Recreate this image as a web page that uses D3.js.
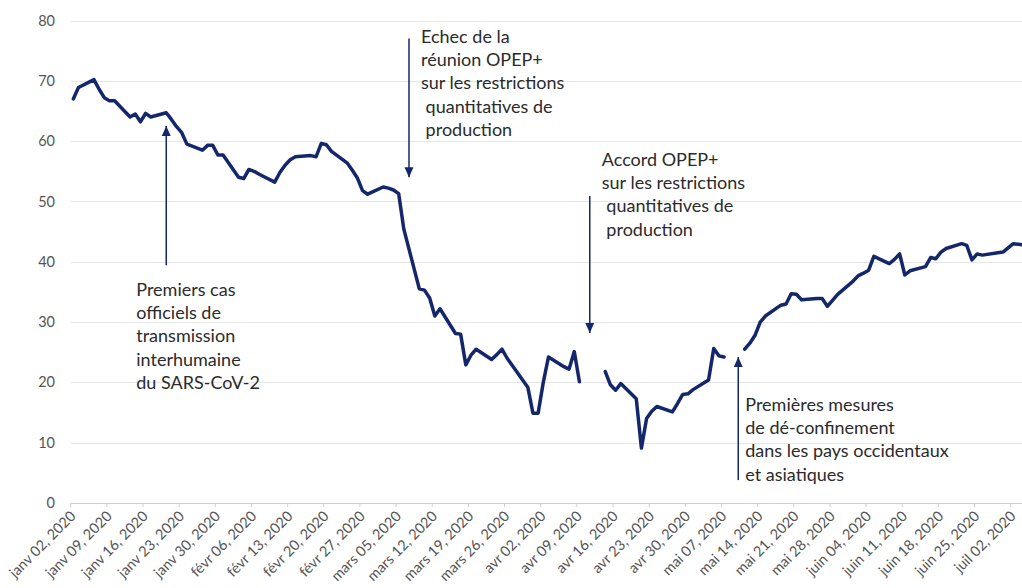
<!DOCTYPE html>
<html>
<head>
<meta charset="utf-8">
<script src="https://cdn.jsdelivr.net/npm/d3@7"></script>
<style>
  body { margin: 0; background: #fff; }
  svg { display: block; font-family: Lato, "Open Sans", sans-serif; }
  .grid line { stroke: #e6e6e6; stroke-width: 1; }
  .yaxis text { fill: #555; font-size: 14.5px; }
  .xaxis text { fill: #555; font-size: 14.5px; }
  .note text { fill: #2b2b2b; font-size: 18px; white-space: pre; }
</style>
</head>
<body>
<div id="chart"></div>
<script>
// Brent price, business days, null = no quote (holiday)
var dates = [
  "2020-01-02","2020-01-03","2020-01-06","2020-01-07","2020-01-08","2020-01-09","2020-01-10",
  "2020-01-13","2020-01-14","2020-01-15","2020-01-16","2020-01-17",
  "2020-01-20","2020-01-21","2020-01-22","2020-01-23","2020-01-24",
  "2020-01-27","2020-01-28","2020-01-29","2020-01-30","2020-01-31",
  "2020-02-03","2020-02-04","2020-02-05","2020-02-06","2020-02-07",
  "2020-02-10","2020-02-11","2020-02-12","2020-02-13","2020-02-14",
  "2020-02-17","2020-02-18","2020-02-19","2020-02-20","2020-02-21",
  "2020-02-24","2020-02-25","2020-02-26","2020-02-27","2020-02-28",
  "2020-03-02","2020-03-03","2020-03-04","2020-03-05","2020-03-06",
  "2020-03-09","2020-03-10","2020-03-11","2020-03-12","2020-03-13",
  "2020-03-16","2020-03-17","2020-03-18","2020-03-19","2020-03-20",
  "2020-03-23","2020-03-24","2020-03-25","2020-03-26","2020-03-27",
  "2020-03-30","2020-03-31","2020-04-01","2020-04-02","2020-04-03",
  "2020-04-06","2020-04-07","2020-04-08","2020-04-09","2020-04-10",
  "2020-04-13","2020-04-14","2020-04-15","2020-04-16","2020-04-17",
  "2020-04-20","2020-04-21","2020-04-22","2020-04-23","2020-04-24",
  "2020-04-27","2020-04-28","2020-04-29","2020-04-30","2020-05-01",
  "2020-05-04","2020-05-05","2020-05-06","2020-05-07","2020-05-08",
  "2020-05-11","2020-05-12","2020-05-13","2020-05-14","2020-05-15",
  "2020-05-18","2020-05-19","2020-05-20","2020-05-21","2020-05-22",
  "2020-05-25","2020-05-26","2020-05-27","2020-05-28","2020-05-29",
  "2020-06-01","2020-06-02","2020-06-03","2020-06-04","2020-06-05",
  "2020-06-08","2020-06-09","2020-06-10","2020-06-11","2020-06-12",
  "2020-06-15","2020-06-16","2020-06-17","2020-06-18","2020-06-19",
  "2020-06-22","2020-06-23","2020-06-24","2020-06-25","2020-06-26",
  "2020-06-29","2020-06-30","2020-07-01","2020-07-02","2020-07-03",
  "2020-07-06"
];
var prices = [
  67.0, 68.9, 70.2, 68.6, 67.2, 66.7, 66.7,
  64.0, 64.5, 63.2, 64.6, 64.0,
  64.7, 63.6, 62.4, 61.4, 59.5,
  58.5, 59.3, 59.3, 57.7, 57.7,
  54.0, 53.8, 55.3, 55.0, 54.5,
  53.2, 54.8, 56.0, 56.9, 57.4,
  57.6, 57.4, 59.6, 59.4, 58.3,
  56.4, 55.2, 53.9, 51.8, 51.2,
  52.4, 52.2, 51.9, 51.3, 45.4,
  35.5, 35.3, 34.0, 31.0, 32.2,
  28.1, 28.0, 22.9, 24.5, 25.5,
  23.8, 24.6, 25.5, 24.0, 22.8,
  19.2, 14.9, 14.9, 20.0, 24.2,
  22.6, 22.2, 25.1, 20.1, null,
  null, 21.8, 19.6, 18.7, 19.8,
  17.3, 9.1, 14.0, 15.2, 16.0,
  15.1, 16.5, 18.0, 18.1, 18.8,
  20.4, 25.6, 24.4, 24.2, null,
  25.5, 26.5, 27.8, 30.0, 31.0,
  32.8, 33.0, 34.7, 34.6, 33.7,
  33.9, 33.9, 32.6, 33.6, 34.6,
  36.8, 37.7, 38.1, 38.6, 40.9,
  39.7, 40.4, 41.3, 37.8, 38.5,
  39.2, 40.7, 40.5, 41.6, 42.2,
  43.0, 42.7, 40.3, 41.3, 41.1,
  41.5, 41.6, 42.3, 43.0, 42.9,
  42.6
];
var yTicks = [0, 10, 20, 30, 40, 50, 60, 70, 80];
var moisCourts = ["janv", "févr", "mars", "avr", "mai", "juin", "juil", "août", "sept", "oct", "nov", "déc"];

var notes = [
  {date: "2020-01-20T12:00", from: 39.4, to: 62.5, tx: -30, ty: 296,
   lines: ["Premiers cas", "officiels de", "transmission", "interhumaine", "du SARS-CoV-2"]},
  {date: "2020-03-07T12:00", from: 77.0, to: 54.0, tx: 12, ty: 43,
   lines: ["Echec de la", "réunion OPEP+", "sur les restrictions", " quantitatives de", " production"]},
  {date: "2020-04-11T12:00", from: 50.9, to: 28.2, tx: 12, ty: 166,
   lines: ["Accord OPEP+", "sur les restrictions", " quantitatives de", " production"]},
  {date: "2020-05-10T06:00", from: 3.8, to: 24.2, tx: 7, ty: 411,
   lines: ["Premières mesures", "de dé-confinement", "dans les pays occidentaux", "et asiatiques"]}
];

var width = 1022, height = 588;
var plotLeft = 70.7, plotRight = 1010.7, plotTop = 20.5, plotBottom = 503;
var navy = "#15276b";

var parse = d3.timeParse("%Y-%m-%d");
var parseT = d3.timeParse("%Y-%m-%dT%H:%M");
// quotes are plotted at midday
var data = dates.map(function (d, i) {
  return {date: d3.timeHour.offset(parse(d), 12), value: prices[i]};
});

var x = d3.scaleTime()
  .domain([parse("2020-01-02"), parse("2020-07-02")])
  .range([plotLeft, plotRight]);
var y = d3.scaleLinear()
  .domain([0, 80])
  .range([plotBottom, plotTop]);

var fr = d3.timeFormatLocale({
  dateTime: "%A %e %B %Y à %X", date: "%d/%m/%Y", time: "%H:%M:%S",
  periods: ["AM", "PM"],
  days: ["dimanche", "lundi", "mardi", "mercredi", "jeudi", "vendredi", "samedi"],
  shortDays: ["dim.", "lun.", "mar.", "mer.", "jeu.", "ven.", "sam."],
  months: ["janvier", "février", "mars", "avril", "mai", "juin", "juillet", "août", "septembre", "octobre", "novembre", "décembre"],
  shortMonths: moisCourts
});
var fmt = fr.format("%b %d, %Y");

var svg = d3.select("#chart").append("svg")
  .attr("width", width)
  .attr("height", height);

// horizontal grid
svg.append("g")
  .attr("class", "grid")
  .selectAll("line")
  .data(yTicks.filter(function (t) { return t > 0; }))
  .enter().append("line")
  .attr("x1", plotLeft).attr("x2", width)
  .attr("y1", function (d) { return Math.round(y(d)) + 0.5; })
  .attr("y2", function (d) { return Math.round(y(d)) + 0.5; });

// y labels
svg.append("g")
  .attr("class", "yaxis")
  .selectAll("text")
  .data(yTicks)
  .enter().append("text")
  .attr("x", 55)
  .attr("y", function (d) { return y(d); })
  .attr("dy", "0.35em")
  .attr("text-anchor", "end")
  .text(function (d) { return d; });

// x axis, one tick a week (Thursdays)
var weeks = d3.timeThursday.range(parse("2020-01-02"), d3.timeDay.offset(parse("2020-07-02"), 1));
var xa = svg.append("g").attr("class", "xaxis");
xa.append("line")
  .attr("x1", plotLeft).attr("x2", width)
  .attr("y1", Math.round(plotBottom) + 0.5).attr("y2", Math.round(plotBottom) + 0.5)
  .attr("stroke", "#d0d0d0");
xa.selectAll(".tick")
  .data(weeks)
  .enter().append("line")
  .attr("class", "tick")
  .attr("x1", function (d) { return x(d); })
  .attr("x2", function (d) { return x(d); })
  .attr("y1", plotBottom).attr("y2", plotBottom + 4)
  .attr("stroke", "#d0d0d0");
xa.selectAll("text")
  .data(weeks)
  .enter().append("text")
  .attr("text-anchor", "end")
  .attr("transform", function (d) {
    return "translate(" + (x(d) + 6) + "," + (plotBottom + 14) + ") rotate(-45)";
  })
  .text(function (d) { return fmt(d); });

// price line
var line = d3.line()
  .defined(function (d) { return d.value !== null; })
  .x(function (d) { return x(d.date); })
  .y(function (d) { return y(d.value); });

svg.append("path")
  .datum(data)
  .attr("fill", "none")
  .attr("stroke", navy)
  .attr("stroke-width", 3.5)
  .attr("stroke-linejoin", "round")
  .attr("stroke-linecap", "round")
  .attr("d", line);

// annotations
svg.append("defs").append("marker")
  .attr("id", "head")
  .attr("viewBox", "0 0 10 10")
  .attr("refX", 10).attr("refY", 5)
  .attr("markerWidth", 10).attr("markerHeight", 10)
  .attr("markerUnits", "userSpaceOnUse")
  .attr("orient", "auto")
  .append("path")
  .attr("d", "M0,0.5L10,5L0,9.5Z")
  .attr("fill", navy);

var note = svg.selectAll(".note")
  .data(notes)
  .enter().append("g")
  .attr("class", "note");

note.append("line")
  .attr("x1", function (d) { return x(parseT(d.date)); })
  .attr("x2", function (d) { return x(parseT(d.date)); })
  .attr("y1", function (d) { return y(d.from); })
  .attr("y2", function (d) { return y(d.to); })
  .attr("stroke", navy)
  .attr("stroke-width", 1.5)
  .attr("marker-end", "url(#head)");

note.append("text")
  .attr("transform", function (d) {
    return "translate(" + (x(parseT(d.date)) + d.tx) + "," + d.ty + ")";
  })
  .selectAll("tspan")
  .data(function (d) { return d.lines; })
  .enter().append("tspan")
  .attr("x", 0)
  .attr("y", function (d, i) { return i * 23.2; })
  .text(function (d) { return d; });
</script>
</body>
</html>
